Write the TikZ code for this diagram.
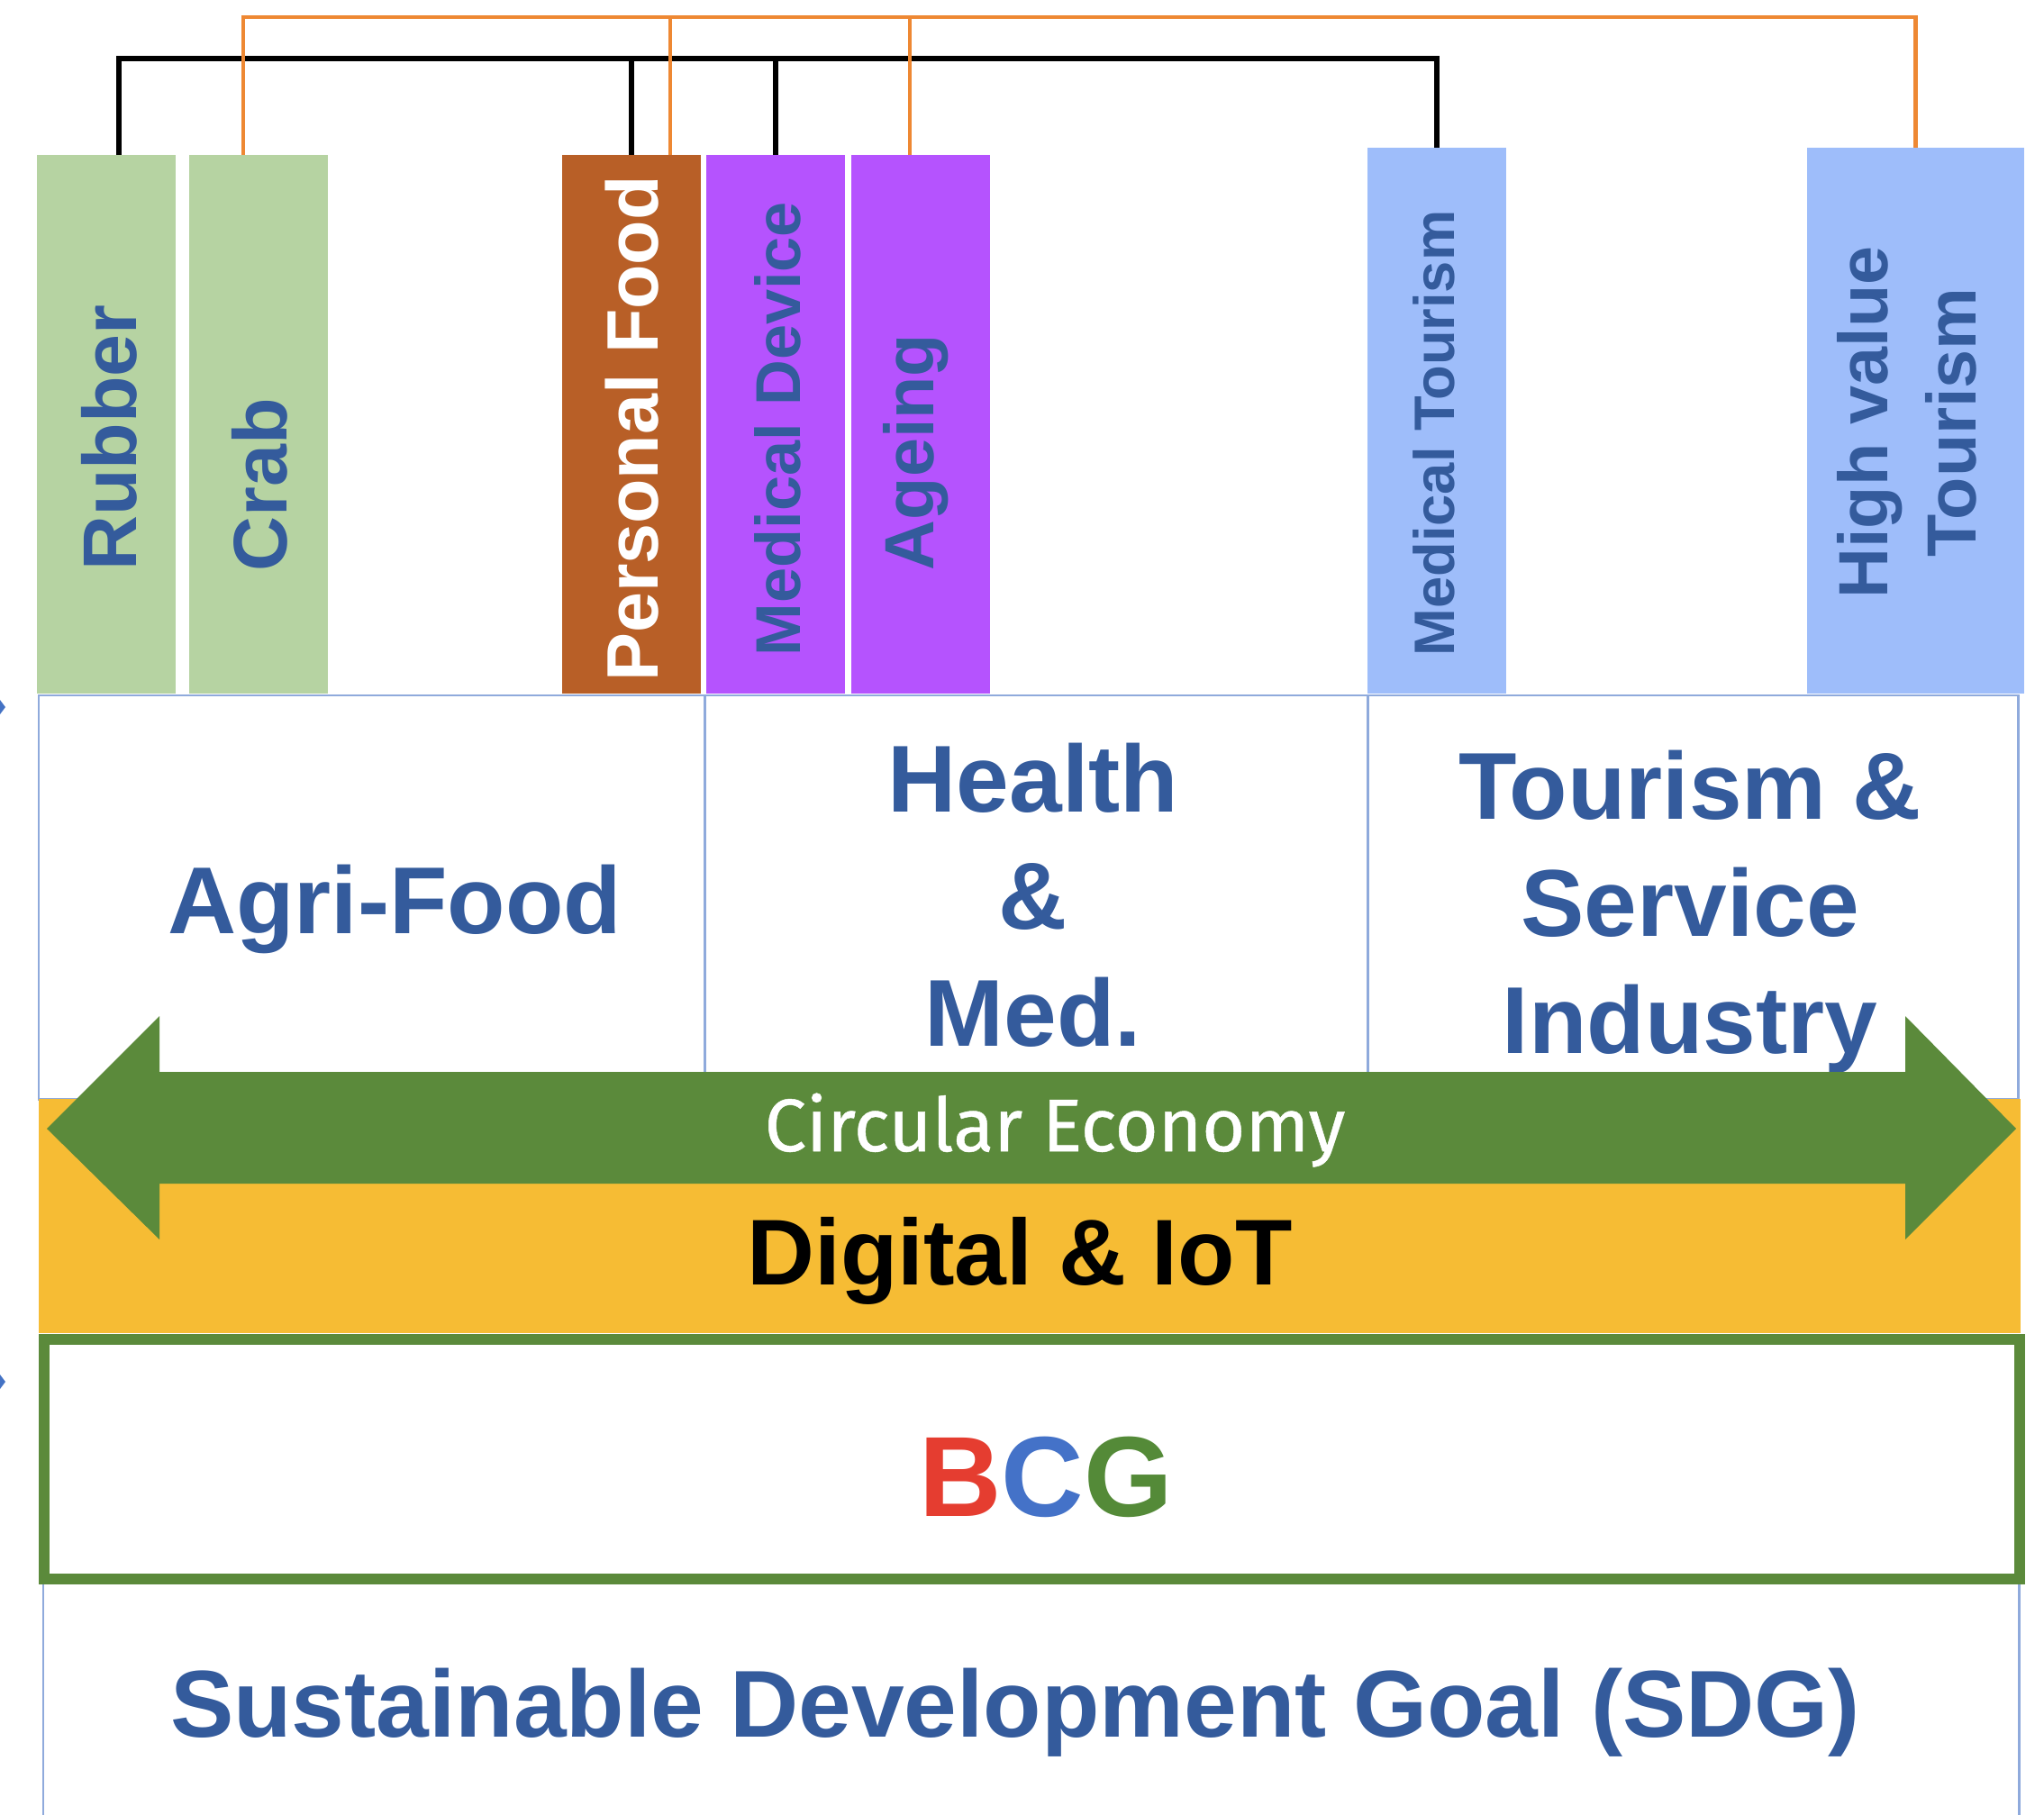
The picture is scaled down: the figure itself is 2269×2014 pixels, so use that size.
\documentclass[tikz,border=0pt]{standalone}
\usepackage{fontspec}
\setmainfont{Liberation Sans}
\newfontfamily\circfont[BoldFont={Fira Sans}, BoldFeatures={FakeBold=0.6}]{Fira Sans}
\usepackage{tikz}
\usetikzlibrary{positioning, calc}

\definecolor{leafgreen}{HTML}{B6D3A2}
\definecolor{foodbrown}{HTML}{B85F27}
\definecolor{medpurple}{HTML}{B553FE}
\definecolor{tourblue}{HTML}{9EBDFA}
\definecolor{labelblue}{HTML}{345B9C}
\definecolor{sectorline}{HTML}{8FAADC}
\definecolor{iotyellow}{HTML}{F6BC34}
\definecolor{arrowgreen}{HTML}{5B8A3B}
\definecolor{bcgred}{HTML}{E53D30}
\definecolor{bcgblue}{HTML}{4472C8}
\definecolor{bcggreen}{HTML}{548A38}
\definecolor{busorange}{HTML}{EE8833}
\definecolor{markblue}{HTML}{4472C4}

\begin{document}
\begin{tikzpicture}[
      x=0.01cm, y=-0.01cm,
      every node/.style={inner sep=0pt, outer sep=0pt},
      bar/.style={rectangle, anchor=north west, minimum width=1.54cm, minimum height=5.98cm},
      vlabel/.style={rotate=90, text=labelblue, font=\bfseries},
      sector/.style={rectangle, draw=sectorline, line width=0.8pt, anchor=north west, minimum height=4.48cm},
      sectortext/.style={text=labelblue, align=center, font=\fontsize{30}{37}\selectfont\bfseries},
      blackline/.style={line width=1.5pt, black},
      orangeline/.style={line width=1.2pt, busorange}
      ]

      \useasboundingbox (0,0) rectangle (2269,2014);

      % sector row
      \node[sector, minimum width=7.39cm] (agri)    at (43,772)   {};
      \node[sector, minimum width=7.36cm] (health)  at (782,772)  {};
      \node[sector, minimum width=7.22cm] (tourism) at (1518,772) {};

      % topic bars
      \node[bar, fill=leafgreen]  (rubber)  at (41,172)   {};
      \node[bar, fill=leafgreen]  (crab)    at (210,172)  {};
      \node[bar, fill=foodbrown]  (pfood)   at (624,172)  {};
      \node[bar, fill=medpurple]  (meddev)  at (784,172)  {};
      \node[bar, fill=medpurple]  (ageing)  at (945,172)  {};
      \node[bar, fill=tourblue, minimum height=6.06cm] (medtour) at (1518,164) {};
      \node[bar, fill=tourblue, minimum height=6.06cm, minimum width=2.41cm] (hvtour) at (2006,164) {};

      \node[vlabel, font=\fontsize{24}{28}\selectfont\bfseries] at (121,486) {Rubber};
      \node[vlabel, font=\fontsize{24}{28}\selectfont\bfseries] at (288,538) {Crab};
      \node[vlabel, text=white, font=\fontsize{23}{28}\selectfont\bfseries] at (702,476) {Personal Food};
      \node[vlabel, font=\fontsize{20}{24}\selectfont\bfseries] at (863,476) {Medical Device};
      \node[vlabel, font=\fontsize{22}{26}\selectfont\bfseries] at (1017,502) {Ageing};
      \node[vlabel, font=\fontsize{18}{22}\selectfont\bfseries] at (1592,481) {Medical Tourism};
      \node[vlabel, align=center, font=\fontsize{22}{28}\selectfont\bfseries] at (2117,469) {High value\\Tourism};

      % links above the bars
      \coordinate (blackbus)  at (0,65);
      \coordinate (orangebus) at (0,19);
      \coordinate (pfoodtap)  at ([xshift=.43cm]pfood.north);
      \coordinate (ageingtap) at ([xshift=-.12cm]ageing.north);

      \draw[blackline] ([xshift=.14cm]rubber.north) |- (blackbus -| medtour.north) -- (medtour.north);
      \draw[blackline] (pfood.north) -- (pfood.north |- blackbus);
      \draw[blackline] (meddev.north) -- (meddev.north |- blackbus);

      \draw[orangeline] ([xshift=-.17cm]crab.north) |- (orangebus -| hvtour.north) -- (hvtour.north);
      \draw[orangeline] (pfoodtap) -- (pfoodtap |- orangebus);
      \draw[orangeline] (ageingtap) -- (ageingtap |- orangebus);

      \node[sectortext, anchor=base] (agritext) at (438,1036) {Agri-Food};
      \node[sectortext] (healthtext) at (1147,994) {Health\\\&\\Med.};
      \node[sectortext] (tourtext) at (1876,1012) {Tourism \&\\Service\\Industry};

      % layers
      \node[rectangle, fill=iotyellow, anchor=north west, minimum width=21.99cm, minimum height=2.6cm] (iot) at (43,1220) {};

      \fill[arrowgreen] (52,1253) -- (177,1128) -- (177,1190) -- (2115,1190) -- (2115,1128)
            -- (2238,1253) -- (2115,1376) -- (2115,1314) -- (177,1314) -- (177,1376) -- cycle;
      \node[anchor=base, text=white, font=\fontsize{23.5}{28}\selectfont\circfont\bfseries] (circ) at (1171,1278) {Circular Economy};
      \node[anchor=base, font=\fontsize{29.5}{34}\selectfont\bfseries] (iottext) at (1132,1426) {Digital \& IoT};

      \node[rectangle, draw=sectorline, line width=0.8pt, anchor=north west, minimum width=21.92cm, minimum height=4cm] (sdg) at (48,1755) {};
      \node[rectangle, draw=arrowgreen, fill=white, line width=0.12cm, anchor=north west, minimum width=21.92cm, minimum height=2.66cm] (bcg) at (49,1487) {};

      \node[anchor=base, font=\fontsize{36}{40}\selectfont\bfseries] (bcgtext) at (1161,1683)
            {\textcolor{bcgred}{B}\textcolor{bcgblue}{C}\textcolor{bcggreen}{G}};
      \node[anchor=base, text=labelblue, font=\fontsize{30}{36}\selectfont\bfseries] (sdgtext) at (1127,1928)
            {Sustainable Development Goal (SDG)};

      % cut-off marks at the left edge
      \fill[markblue] (0,777) -- (6,785) -- (0,793) -- cycle;
      \fill[markblue] (0,1526) -- (6,1534) -- (0,1542) -- cycle;
    \end{tikzpicture}
\end{document}
